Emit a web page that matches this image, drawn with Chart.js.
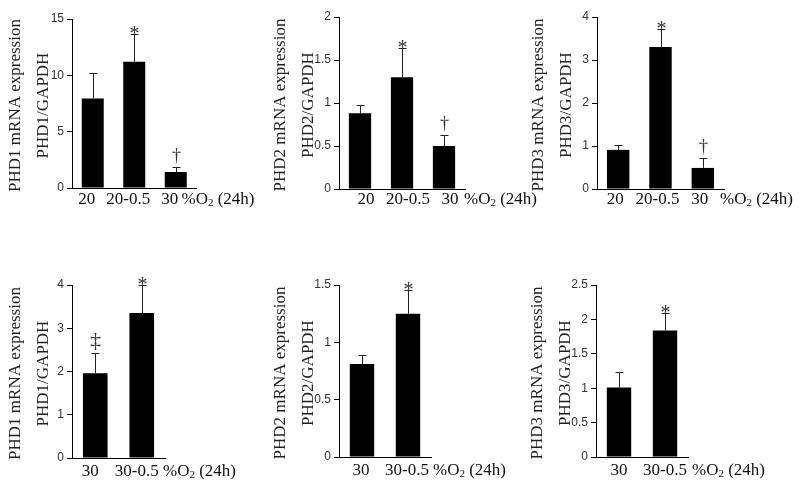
<!DOCTYPE html>
<html>
<head>
<meta charset="utf-8">
<script src="https://cdn.jsdelivr.net/npm/chart.js@4.4.1/dist/chart.umd.min.js"></script>
<style>
    html, body { margin: 0; padding: 0; background: #fff; }
    #wrap { position: relative; width: 800px; height: 493px; overflow: hidden; }
    #wrap canvas { position: absolute; }
</style>
</head>
<body>
<div id="wrap"></div>
<script>
// categories
var labelsTop = ['20', '20-0.5', '30'];
var labelsBottom = ['30', '30-0.5'];

// series values (mean) and error (SD)
var phd1Top = [7.95, 11.2, 1.42];
var phd1TopErr = [2.25, 2.46, 0.45];
var phd2Top = [0.88, 1.3, 0.5];
var phd2TopErr = [0.1, 0.34, 0.13];
var phd3Top = [0.91, 3.3, 0.49];
var phd3TopErr = [0.11, 0.42, 0.23];

var phd1Bottom = [1.96, 3.35];
var phd1BottomErr = [0.47, 0.65];
var phd2Bottom = [0.81, 1.25];
var phd2BottomErr = [0.08, 0.21];
var phd3Bottom = [1.01, 1.84];
var phd3BottomErr = [0.22, 0.25];

// significance marks above each bar
var marksTop = ['', '*', '\u2020'];
var marksBottomPhd1 = ['\u2021', '*'];
var marksBottom = ['', '*'];

// y axis ticks
var yMax = [15, 2, 4, 4, 1.5, 2.5];
var yStep = [5, 0.5, 1, 1, 0.5, 0.5];

var titles = [
    ['PHD1 mRNA expression', 'PHD1/GAPDH'],
    ['PHD2 mRNA expression', 'PHD2/GAPDH'],
    ['PHD3 mRNA expression', 'PHD3/GAPDH']
];

var serif = '"Liberation Serif", "Times New Roman", serif';
var sans = '"Liberation Sans", Arial, sans-serif';

// where each little chart sits on the page
var panels = [
    { labels: labelsTop, values: phd1Top, errors: phd1TopErr, marks: marksTop, title: titles[0], max: yMax[0], step: yStep[0],
      left: 0, top: 0, width: 290, height: 215, yWidth: 72, areaW: 124.5, areaTop: 19, areaBottom: 188, labelOffset: -6, unitDx: -15, xPad: 1 },
    { labels: labelsTop, values: phd2Top, errors: phd2TopErr, marks: marksTop, title: titles[1], max: yMax[1], step: yStep[1],
      left: 264, top: 0, width: 290, height: 215, yWidth: 75, areaW: 126, areaTop: 17, areaBottom: 189, labelOffset: 6, unitDx: -1, xPad: 0 },
    { labels: labelsTop, values: phd3Top, errors: phd3TopErr, marks: marksTop, title: titles[2], max: yMax[2], step: yStep[2],
      left: 522, top: 0, width: 278, height: 215, yWidth: 75, areaW: 127, areaTop: 17, areaBottom: 189, labelOffset: -3, unitDx: -4, xPad: 0 },
    { labels: labelsBottom, values: phd1Bottom, errors: phd1BottomErr, marks: marksBottomPhd1, title: titles[0], max: yMax[3], step: yStep[3],
      left: 0, top: 260, width: 290, height: 233, yWidth: 72, areaW: 93, areaTop: 25, areaBottom: 198, labelOffset: -5, unitDx: -2, xPad: 3 },
    { labels: labelsBottom, values: phd2Bottom, errors: phd2BottomErr, marks: marksBottom, title: titles[1], max: yMax[4], step: yStep[4],
      left: 264, top: 260, width: 290, height: 233, yWidth: 75, areaW: 92, areaTop: 25, areaBottom: 197, labelOffset: -1, unitDx: 2, xPad: 3 },
    { labels: labelsBottom, values: phd3Bottom, errors: phd3BottomErr, marks: marksBottom, title: titles[2], max: yMax[5], step: yStep[5],
      left: 521, top: 260, width: 279, height: 233, yWidth: 75, areaW: 92, areaTop: 25, areaBottom: 197, labelOffset: 0, unitDx: 4, xPad: 3 }
];

Chart.defaults.font.family = sans;
Chart.defaults.color = '#333';

// error bars, significance marks, the two-line y title and the "%O2 (24h)" axis note
function makeExtras(p) {
    return {
        id: 'extras',
        afterDatasetsDraw: function (chart) {
            var ctx = chart.ctx;
            var meta = chart.getDatasetMeta(0);
            var yScale = chart.scales.y;
            ctx.save();
            ctx.strokeStyle = '#222';
            ctx.lineWidth = 1;
            meta.data.forEach(function (bar, i) {
                var yTop = Math.round(yScale.getPixelForValue(p.values[i] + p.errors[i])) + 0.5;
                var x = Math.round(bar.x) + 0.5;
                ctx.beginPath();
                ctx.moveTo(x, bar.y);
                ctx.lineTo(x, yTop);
                ctx.moveTo(x - 4, yTop);
                ctx.lineTo(x + 4, yTop);
                ctx.stroke();

                var sym = p.marks[i];
                if (sym) {
                    var size = sym === '*' ? 20 : (sym === '\u2021' ? 22 : 18);
                    ctx.fillStyle = '#333';
                    ctx.font = size + 'px ' + serif;
                    ctx.textAlign = 'center';
                    ctx.textBaseline = 'alphabetic';
                    var m = ctx.measureText(sym);
                    var gap = sym === '*' ? 1 : 4;
                    ctx.fillText(sym, x, yTop - gap - m.actualBoundingBoxDescent);
                }
            });
            ctx.restore();
        },
        afterDraw: function (chart) {
            var ctx = chart.ctx;
            var area = chart.chartArea;

            // y title, two rotated lines centred on the plot height
            ctx.save();
            ctx.fillStyle = '#222';
            ctx.font = '17px ' + serif;
            ctx.textAlign = 'center';
            ctx.textBaseline = 'middle';
            var cy = (area.top + area.bottom) / 2 + 2;
            p.title.forEach(function (line, k) {
                ctx.save();
                ctx.translate(area.left - (p.yWidth === 72 ? 56 : 58) + k * 28, cy);
                ctx.rotate(-Math.PI / 2);
                ctx.fillText(line, 0, 0);
                ctx.restore();
            });
            ctx.restore();

            var x0 = area.right + p.unitDx;
            var y = chart.scales.x.top + p.xPad + 10.2;
            ctx.save();
            ctx.fillStyle = '#111';
            ctx.textAlign = 'left';
            ctx.textBaseline = 'middle';
            ctx.font = '17px ' + serif;
            ctx.fillText('%O', x0, y);
            var w = ctx.measureText('%O').width;
            ctx.font = '11px ' + serif;
            ctx.fillText('2', x0 + w, y + 4);
            w += ctx.measureText('2').width;
            ctx.font = '17px ' + serif;
            ctx.fillText(' (24h)', x0 + w, y);
            ctx.restore();
        }
    };
}

function createPanel(p) {
    var canvas = document.createElement('canvas');
    canvas.width = p.width;
    canvas.height = p.height;
    canvas.style.left = p.left + 'px';
    canvas.style.top = p.top + 'px';
    document.getElementById('wrap').appendChild(canvas);

    var padRight = p.width - p.yWidth - p.areaW;
    var xHeight = p.height - p.areaBottom;

    return new Chart(canvas, {
        type: 'bar',
        data: {
            labels: p.labels,
            datasets: [{
                data: p.values,
                backgroundColor: '#000',
                borderWidth: 0,
                barPercentage: 0.53,
                categoryPercentage: 1
            }]
        },
        options: {
            responsive: false,
            animation: false,
            devicePixelRatio: 1,
            layout: {
                padding: { left: 0, top: p.areaTop, right: padRight, bottom: 0 }
            },
            plugins: {
                legend: { display: false },
                tooltip: { enabled: false }
            },
            scales: {
                x: {
                    grid: { display: false, drawTicks: false },
                    border: { display: true, color: '#000', width: 1 },
                    ticks: {
                        padding: p.xPad,
                        labelOffset: p.labelOffset,
                        autoSkip: false,
                        maxRotation: 0,
                        minRotation: 0,
                        color: '#111',
                        font: { family: serif, size: 17 }
                    },
                    afterFit: function (scale) { scale.height = xHeight; }
                },
                y: {
                    min: 0,
                    max: p.max,
                    grid: { drawOnChartArea: false, drawTicks: true, tickLength: 5, color: '#000' },
                    border: { display: true, color: '#000', width: 1 },
                    ticks: {
                        stepSize: p.step,
                        padding: 3,
                        color: '#333',
                        font: { family: sans, size: 12 },
                        callback: function (value) { return String(Math.round(value * 100) / 100); }
                    },
                    afterFit: function (scale) { scale.width = p.yWidth; }
                }
            }
        },
        plugins: [makeExtras(p)]
    });
}

panels.forEach(createPanel);
</script>
</body>
</html>
